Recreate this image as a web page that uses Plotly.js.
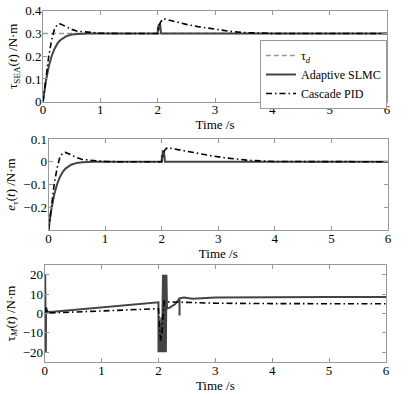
<!DOCTYPE html>
<html>
<head>
<meta charset="utf-8">
<script src="https://cdn.plot.ly/plotly-3.0.1.min.js"></script>
<style>html,body{margin:0;padding:0;background:#fff;}#chart{width:416px;height:394px;}</style>
</head>
<body>
<div id="chart"></div>
<script>
// Panel 1: tau_SEA(t)
const tauDTime = [0, 6];
const tauDVal = [0.3, 0.3];
const p1SlmcTime = [0,0.02,0.05,0.1,0.15,0.2,0.25,0.3,0.4,0.5,0.6,0.8,1.0,2.0,2.005,2.01,2.02,2.03,2.04,2.05,2.06,3,4,5,6];
const p1SlmcVal  = [0,0.04,0.09,0.155,0.2,0.232,0.255,0.27,0.287,0.295,0.298,0.3,0.3,0.3,0.33,0.31,0.34,0.32,0.345,0.31,0.3,0.3,0.3,0.3,0.3];
const p1PidTime = [0,0.05,0.1,0.15,0.2,0.25,0.3,0.4,0.5,0.6,0.8,1.0,1.3,2.0,2.02,2.05,2.1,2.3,2.5,2.7,2.9,3.1,3.3,3.5,3.8,4,6];
const p1PidVal  = [0,0.1,0.2,0.27,0.32,0.338,0.342,0.33,0.318,0.31,0.304,0.301,0.3,0.3,0.33,0.35,0.365,0.352,0.34,0.33,0.322,0.314,0.308,0.304,0.301,0.3,0.3];

// Panel 2: e_tau(t)
const p2SlmcTime = [0,0.02,0.05,0.1,0.15,0.2,0.25,0.3,0.4,0.5,0.6,0.8,1,2,2.005,2.01,2.02,2.03,2.04,2.05,2.06,6];
const p2SlmcVal  = [-0.3,-0.26,-0.21,-0.145,-0.1,-0.068,-0.045,-0.03,-0.013,-0.005,-0.002,0,0,0,0.03,0.01,0.05,0.02,0.045,0.01,0,0];
const p2PidTime = [0,0.05,0.1,0.15,0.2,0.25,0.3,0.4,0.5,0.6,0.8,1,1.3,2,2.02,2.05,2.1,2.3,2.5,2.7,2.9,3.1,3.3,3.5,3.8,4,6];
const p2PidVal  = [-0.3,-0.2,-0.1,-0.03,0.02,0.038,0.041,0.03,0.018,0.01,0.004,0.001,0,0,0.03,0.05,0.062,0.052,0.042,0.033,0.025,0.018,0.012,0.007,0.003,0.001,0];

// Panel 3: tau_M(t)
const p3SlmcTime = [0.008,0.008,0.012,0.016,0.02,0.024,0.05,0.1,2.0,2.0,2.01,2.02,2.03,2.04,2.05,2.06,2.08,2.09,2.1,2.11,2.12,2.13,2.14,2.15,2.2,2.3,2.37,2.37,2.37,2.45,2.6,3,4,5,6];
const p3SlmcVal  = [-20,20,-20,20,-20,3,1,0.8,5.8,-20,-3,-20,-5,-20,-2,-20,20,-20,20,-20,20,-20,20,2.5,3,5,7.8,-1,7.8,8.2,7.6,8.3,8.5,8.5,8.5];
const p3PidTime = [0,0.02,0.05,0.1,1,2.0,2.02,2.04,2.06,2.08,2.1,2.15,2.4,3,4,5,6];
const p3PidVal  = [0,3,0.3,0.3,1.3,2.5,-8,-14,-10,0,6.3,6,5.8,5.3,5.1,5,5];

const serif = 'Times New Roman, Liberation Serif, DejaVu Serif, serif';
const cSlmc = '#444444', cPid = '#000000', cRef = '#999999';
const slmcLine = {color: cSlmc, width: 2};
const pidLine = {color: cPid, width: 1.6, dash: '6px,3px,1.5px,3px'};

const traces = [
  {x: tauDTime, y: tauDVal, mode: 'lines', name: 'τ<sub><i>d</i></sub>', line: {color: cRef, width: 1.5, dash: '5px,3px'}, xaxis: 'x', yaxis: 'y'},
  {x: p1SlmcTime, y: p1SlmcVal, mode: 'lines', name: 'Adaptive SLMC', line: slmcLine, xaxis: 'x', yaxis: 'y'},
  {x: p1PidTime, y: p1PidVal, mode: 'lines', name: 'Cascade PID', line: pidLine, xaxis: 'x', yaxis: 'y'},
  {x: p2SlmcTime, y: p2SlmcVal, mode: 'lines', showlegend: false, line: slmcLine, xaxis: 'x2', yaxis: 'y2'},
  {x: p2PidTime, y: p2PidVal, mode: 'lines', showlegend: false, line: pidLine, xaxis: 'x2', yaxis: 'y2'},
  {x: p3SlmcTime, y: p3SlmcVal, mode: 'lines', showlegend: false, line: slmcLine, xaxis: 'x3', yaxis: 'y3'},
  {x: p3PidTime, y: p3PidVal, mode: 'lines', showlegend: false, line: pidLine, xaxis: 'x3', yaxis: 'y3'}
];

const W = 416, H = 394;
function ax(extra) {
  return Object.assign({
    showline: true, mirror: 'ticks', linecolor: '#999', linewidth: 1,
    ticks: 'inside', ticklen: 4, tickcolor: '#999', showgrid: false, zeroline: false,
    tickfont: {family: serif, size: 13, color: '#000'}
  }, extra);
}
function xax(l, r, anchor) {
  return ax({domain: [l / W, r / W], anchor: anchor, range: [0, 6], tickvals: [0,1,2,3,4,5,6],
    ticklabelstandoff: -4,
    title: {text: 'Time /s', font: {family: serif, size: 13, color: '#000'}, standoff: 0}});
}
function yax(top, bottom, anchor, range, tickvals, title) {
  return ax({domain: [1 - bottom / H, 1 - top / H], anchor: anchor, range: range, tickvals: tickvals,
    ticklabelstandoff: -2,
    title: {text: title, font: {family: serif, size: 13, color: '#000'}, standoff: 4}});
}

const layout = {
  width: W, height: H,
  margin: {l: 0, r: 0, t: 0, b: 0},
  paper_bgcolor: '#fff', plot_bgcolor: '#fff',
  font: {family: serif, size: 13, color: '#000'},
  showlegend: true,
  legend: {x: 260 / W, y: 1 - 40 / H, xanchor: 'left', yanchor: 'top',
    bordercolor: '#999', borderwidth: 1, bgcolor: '#fff',
    font: {family: serif, size: 12, color: '#000'}, tracegroupgap: 0},
  xaxis: xax(43, 387, 'y'),
  yaxis: yax(10.7, 101.7, 'x', [0, 0.4], [0, 0.1, 0.2, 0.3, 0.4], 'τ<sub>SEA</sub>(<i>t</i>) /N·m'),
  xaxis2: xax(48.5, 388, 'y2'),
  yaxis2: yax(139, 230, 'x2', [-0.3, 0.1], [-0.2, -0.1, 0, 0.1], '<i>e</i><sub>τ</sub>(<i>t</i>) /N·m'),
  xaxis3: xax(44.7, 386, 'y3'),
  yaxis3: yax(265, 362, 'x3', [-25, 25], [-20, -10, 0, 10, 20], 'τ<sub><i>M</i></sub>(<i>t</i>) /N·m')
};

Plotly.newPlot('chart', traces, layout, {staticPlot: true, displayModeBar: false});
</script>
</body>
</html>
